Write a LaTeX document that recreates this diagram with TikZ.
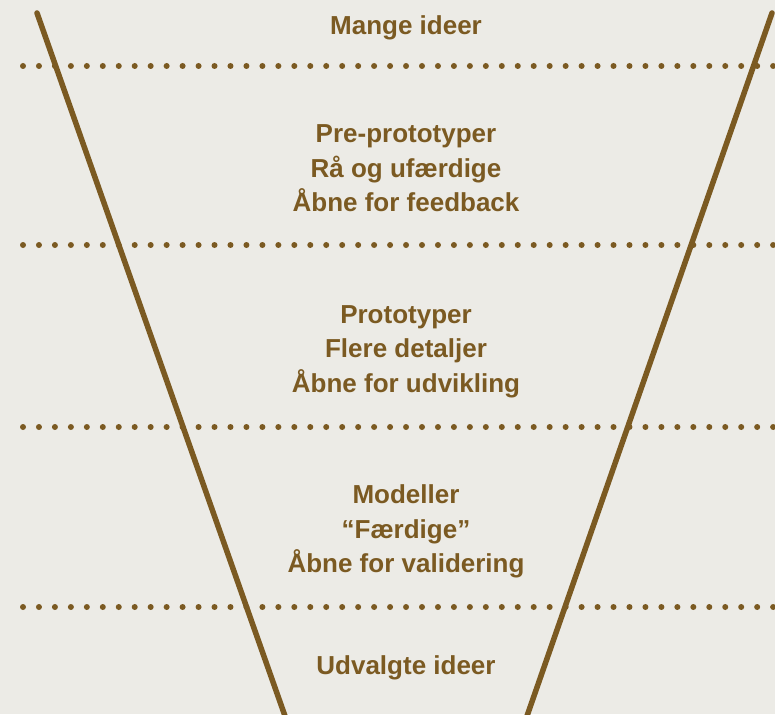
\documentclass[tikz,border=0pt]{standalone}
\usepackage{fontspec}
\setmainfont{Liberation Sans}
\definecolor{bgc}{HTML}{ECEBE6}
\definecolor{brown}{HTML}{7B5A22}
\begin{document}
\begin{tikzpicture}[x=1pt,y=-1pt,
  lbl/.style={text=brown,font=\bfseries\fontsize{26}{34.5}\selectfont,align=center,inner sep=0pt},
  funnel/.style={draw=brown,line width=5.5pt,line cap=round},
  sep/.style={draw=brown,line width=6pt,line cap=round,dash pattern=on 0pt off 15.96pt}]
\fill[bgc] (0,0) rectangle (775,714);
\useasboundingbox (0,0) rectangle (775,714);
% separators
\foreach \y/\n in {66/a,245/b,427/c,607/d}{
  \coordinate (s\n1) at (23,\y);
  \coordinate (s\n2) at (776,\y);
  \draw[sep] (s\n1) -- (s\n2);
}
% funnel
\coordinate (lt) at (37,13);
\coordinate (lb) at (285,716);
\coordinate (rt) at (772,13);
\coordinate (rb) at (527,716);
\draw[funnel] (lt) -- (lb);
\draw[funnel] (rt) -- (rb);
% texts
\node[lbl] (t1) at (406,27.5) {Mange ideer};
\node[lbl] (t2) at (406,168.5) {Pre-prototyper\\Rå og ufærdige\\Åbne for feedback};
\node[lbl] (t3) at (406,351.5) {Prototyper\\Flere detaljer\\Åbne for udvikling};
\node[lbl] (t4) at (406,531.5) {Modeller\\“Færdige”\\Åbne for validering};
\node[lbl] (t5) at (406,667.5) {Udvalgte ideer};
\end{tikzpicture}
\end{document}
